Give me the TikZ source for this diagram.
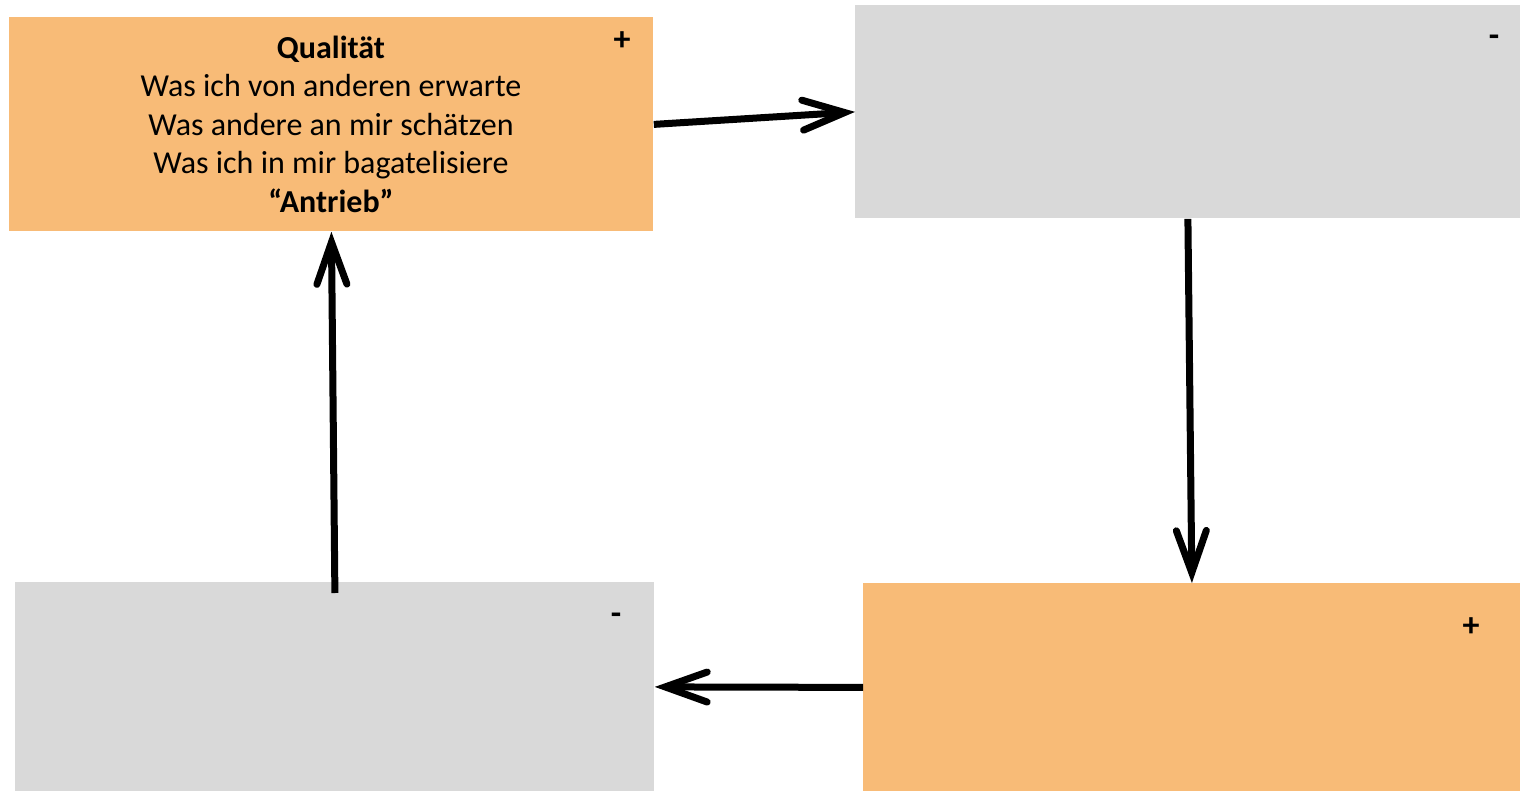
\documentclass[tikz,border=0pt]{standalone}
\usepackage{fontspec}
\setmainfont{Carlito}
\usetikzlibrary{arrows.meta}
\definecolor{boxorange}{HTML}{F8BB77}
\definecolor{boxgray}{HTML}{D9D9D9}
\begin{document}
\begin{tikzpicture}[x=0.5pt,y=-0.5pt,
  box/.style={rectangle, inner sep=0pt, anchor=north west},
  conn/.style={line width=3.5pt, -{Straight Barb[length=21pt,width=15pt,line cap=round]}},
  sign/.style={inner sep=0pt, font=\fontsize{17}{18}\selectfont\bfseries},
  txt/.style={align=center, inner sep=0pt, font=\fontsize{16}{19.25}\selectfont}]
\useasboundingbox (0,0) rectangle (1520,791);
\node[box, fill=boxorange, minimum width=322pt, minimum height=107pt] (tl) at (9,17) {};
\node[box, fill=boxgray, minimum width=332.5pt, minimum height=106.5pt] (tr) at (855,5) {};
\node[box, fill=boxorange, minimum width=328.5pt, minimum height=104pt] (br) at (863,583) {};
\node[box, fill=boxgray, minimum width=319.5pt, minimum height=104.5pt] (bl) at (15,582) {};
\node[txt] (tltext) at (331,124) {\textbf{Qualität}\\Was ich von anderen erwarte\\Was andere an mir schätzen\\Was ich in mir bagatelisiere\\\textbf{“Antrieb”}};
\node[sign] (tlsign) at (622,41) {+};
\node[sign] (trsign) at (1494,41) {-};
\node[sign] (brsign) at (1471,627) {+};
\node[sign] (blsign) at (616,619) {-};
\draw[conn] (tl.east) -- (tr.west);
\draw[conn] (tr.south) -- (br.north);
\draw[conn] (br.west) -- (bl.east);
\draw[conn] ([yshift=-5.5pt]bl.north) -- (tl.south);
\end{tikzpicture}
\end{document}
